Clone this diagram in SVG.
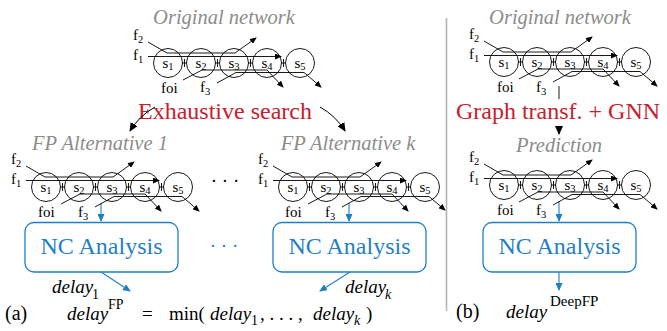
<svg xmlns="http://www.w3.org/2000/svg" width="667" height="331" viewBox="0 0 667 331" font-family="Liberation Serif, serif">
<style>
text{font-family:'Liberation Serif',serif;}
.c{fill:none;stroke:#000;stroke-width:0.9;}
.k{fill:none;stroke:#000;stroke-width:0.9;}
.fl{fill:none;stroke:#000;stroke-width:0.9;marker-end:url(#ah);}
.s{font-size:15px;text-anchor:middle;fill:#000;}
.lb{font-size:15px;fill:#000;}
.sub{font-size:10.5px;}
.title{font-size:20.5px;font-style:italic;fill:#8c8c8c;text-anchor:middle;}
.red{font-size:24px;fill:#c8202e;text-anchor:middle;}
.box{fill:none;stroke:#1f7fc4;stroke-width:1.3;}
.nc{font-size:24px;fill:#1f7fc4;text-anchor:middle;}
.ba{fill:none;stroke:#1f7fc4;stroke-width:1.1;marker-end:url(#bh);}
.ka{fill:none;stroke:#000;stroke-width:1;marker-end:url(#kh);}
.it{font-style:italic;font-size:19px;fill:#000;}
.rm{font-size:19px;fill:#000;}
.sup{font-size:14px;font-style:normal;fill:#000;}
</style>
<defs>
<marker id="ah" markerWidth="7" markerHeight="6" refX="6" refY="3" orient="auto" markerUnits="userSpaceOnUse"><path d="M0,0 L7,3 L0,6 z" fill="#000"/></marker>
<marker id="bh" markerWidth="8" markerHeight="7" refX="7" refY="3.5" orient="auto" markerUnits="userSpaceOnUse"><path d="M0,0 L8,3.5 L0,7 z" fill="#1f7fc4"/></marker>
<marker id="kh" markerWidth="9" markerHeight="8" refX="8" refY="4" orient="auto" markerUnits="userSpaceOnUse"><path d="M0,0 L9,4 L0,8 z" fill="#000"/></marker>
</defs>

<line x1="446.5" y1="18" x2="446.5" y2="311" stroke="#b4b4b4" stroke-width="1.6"/>

<g id="title-orig-a"><text class="title" x="224" y="24">Original network</text></g>

<g id="net-orig-a">
<circle class="c" cx="168" cy="63" r="14.5"/><circle class="c" cx="201" cy="63" r="14.5"/><circle class="c" cx="234" cy="63" r="14.5"/><circle class="c" cx="267" cy="63" r="14.5"/><circle class="c" cx="300" cy="63" r="14.5"/>
<path class="k" d="M182,63 H187 M184.5,59 V67 M215,63 H220 M217.5,59 V67 M248,63 H253 M250.5,59 V67 M281,63 H286 M283.5,59 V67"/>
<path class="fl" d="M148,56.5 H281"/>
<path class="fl" d="M148,42 L167,53 H235 L256,38"/>
<path class="fl" d="M183,80 L202,70 H267 L283,87"/>
<path class="fl" d="M217,83 L236,72.5 H304 L321,87"/>
<text class="s" x="168" y="67.5">s<tspan class="sub" dy="2">1</tspan></text>
<text class="s" x="201" y="67.5">s<tspan class="sub" dy="2">2</tspan></text>
<text class="s" x="234" y="67.5">s<tspan class="sub" dy="2">3</tspan></text>
<text class="s" x="267" y="67.5">s<tspan class="sub" dy="2">4</tspan></text>
<text class="s" x="300" y="67.5">s<tspan class="sub" dy="2">5</tspan></text>
<text class="lb" x="133" y="40">f<tspan class="sub" dy="3">2</tspan></text>
<text class="lb" x="133" y="60">f<tspan class="sub" dy="3">1</tspan></text>
<text class="lb" x="161" y="93">foi</text>
<text class="lb" x="200" y="92">f<tspan class="sub" dy="2.5">3</tspan></text>
</g>

<g id="exhaustive"><text class="red" x="225" y="119">Exhaustive search</text></g>

<g id="connectors">
<path class="ka" d="M155,107 Q139,116 130,131"/>
<path class="ka" d="M320,107 Q336,116 345,131"/>
<path class="ba" d="M101,203 V221"/>
<path class="ba" d="M349,203 V221"/>
<path class="ba" d="M101,272 L130,291"/>
<path class="ba" d="M350,272 L320,291"/>
<path class="k" d="M559,86 V99"/>
<path class="ka" d="M559,127 V134"/>
<path class="ba" d="M559,201 V221"/>
<path class="ba" d="M559,272 V290"/>
</g>

<g id="title-alt1"><text class="title" x="100" y="150">FP Alternative 1</text></g>
<g id="net-alt1">
<circle class="c" cx="46" cy="187" r="14.5"/><circle class="c" cx="79" cy="187" r="14.5"/><circle class="c" cx="112" cy="187" r="14.5"/><circle class="c" cx="145" cy="187" r="14.5"/><circle class="c" cx="178" cy="187" r="14.5"/>
<path class="k" d="M60,187 H65 M62.5,183 V191 M93,187 H98 M95.5,183 V191 M126,187 H131 M128.5,183 V191 M159,187 H164 M161.5,183 V191"/>
<path class="fl" d="M26,180.5 H159"/>
<path class="fl" d="M26,166 L45,177 H113 L134,162"/>
<path class="fl" d="M61,204 L80,194 H145 L161,211"/>
<path class="fl" d="M95,207 L114,196.5 H182 L199,211"/>
<text class="s" x="46" y="191.5">s<tspan class="sub" dy="2">1</tspan></text>
<text class="s" x="79" y="191.5">s<tspan class="sub" dy="2">2</tspan></text>
<text class="s" x="112" y="191.5">s<tspan class="sub" dy="2">3</tspan></text>
<text class="s" x="145" y="191.5">s<tspan class="sub" dy="2">4</tspan></text>
<text class="s" x="178" y="191.5">s<tspan class="sub" dy="2">5</tspan></text>
<text class="lb" x="11" y="164">f<tspan class="sub" dy="3">2</tspan></text>
<text class="lb" x="11" y="184">f<tspan class="sub" dy="3">1</tspan></text>
<text class="lb" x="38" y="217">foi</text>
<text class="lb" x="78" y="217">f<tspan class="sub" dy="2.5">3</tspan></text>
</g>
<g id="nc1"><rect class="box" x="25" y="222.5" width="153" height="49.5" rx="9"/><text class="nc" x="101.5" y="254">NC Analysis</text></g>

<g id="dots-net"><text class="rm" x="225" y="187" text-anchor="middle">· · ·</text></g>
<g id="dots-nc"><text class="rm" x="224" y="252" text-anchor="middle" style="fill:#1f7fc4">· · ·</text></g>

<g id="title-altk"><text class="title" x="348" y="150">FP Alternative k</text></g>
<g id="net-altk">
<circle class="c" cx="293" cy="187" r="14.5"/><circle class="c" cx="326" cy="187" r="14.5"/><circle class="c" cx="359" cy="187" r="14.5"/><circle class="c" cx="392" cy="187" r="14.5"/><circle class="c" cx="425" cy="187" r="14.5"/>
<path class="k" d="M307,187 H312 M309.5,183 V191 M340,187 H345 M342.5,183 V191 M373,187 H378 M375.5,183 V191 M406,187 H411 M408.5,183 V191"/>
<path class="fl" d="M273,180.5 H406"/>
<path class="fl" d="M273,166 L292,177 H360 L381,162"/>
<path class="fl" d="M308,204 L327,194 H392 L408,211"/>
<path class="fl" d="M342,207 L361,196.5 H429 L445,210"/>
<text class="s" x="293" y="191.5">s<tspan class="sub" dy="2">1</tspan></text>
<text class="s" x="326" y="191.5">s<tspan class="sub" dy="2">2</tspan></text>
<text class="s" x="359" y="191.5">s<tspan class="sub" dy="2">3</tspan></text>
<text class="s" x="392" y="191.5">s<tspan class="sub" dy="2">4</tspan></text>
<text class="s" x="425" y="191.5">s<tspan class="sub" dy="2">5</tspan></text>
<text class="lb" x="258" y="164">f<tspan class="sub" dy="3">2</tspan></text>
<text class="lb" x="258" y="184">f<tspan class="sub" dy="3">1</tspan></text>
<text class="lb" x="285" y="217">foi</text>
<text class="lb" x="325" y="217">f<tspan class="sub" dy="2.5">3</tspan></text>
</g>
<g id="nc2"><rect class="box" x="273" y="222.5" width="153" height="49.5" rx="9"/><text class="nc" x="349.5" y="254">NC Analysis</text></g>

<g id="delay1"><text class="it" x="52" y="293">delay</text><text class="sup" x="92" y="299">1</text></g>
<g id="delayk"><text class="it" x="345" y="293">delay</text><text class="sup" x="385" y="299" style="font-style:italic">k</text></g>

<g id="formula-a">
<text class="rm" x="5" y="320" style="font-size:20px">(a)</text>
<text class="it" x="67" y="320">delay</text>
<text class="sup" x="108" y="309">FP</text>
<text class="rm" x="142" y="320">=</text>
<text class="rm" x="169" y="320">min(</text>
<text class="it" x="210" y="320">delay</text>
<text class="sup" x="251" y="325">1</text>
<text class="rm" x="260" y="320">, . . . ,</text>
<text class="it" x="313" y="320">delay</text>
<text class="sup" x="354" y="325" style="font-style:italic">k</text>
<text class="rm" x="366" y="320">)</text>
</g>

<g id="title-orig-b"><text class="title" x="560" y="24">Original network</text></g>
<g id="net-orig-b">
<circle class="c" cx="504" cy="62" r="14.5"/><circle class="c" cx="537" cy="62" r="14.5"/><circle class="c" cx="570" cy="62" r="14.5"/><circle class="c" cx="603" cy="62" r="14.5"/><circle class="c" cx="636" cy="62" r="14.5"/>
<path class="k" d="M518,62 H523 M520.5,58 V66 M551,62 H556 M553.5,58 V66 M584,62 H589 M586.5,58 V66 M617,62 H622 M619.5,58 V66"/>
<path class="fl" d="M484,55.5 H617"/>
<path class="fl" d="M484,41 L503,52 H571 L592,37"/>
<path class="fl" d="M519,79 L538,69 H603 L619,86"/>
<path class="fl" d="M553,82 L572,71.5 H640 L657,86"/>
<text class="s" x="504" y="66.5">s<tspan class="sub" dy="2">1</tspan></text>
<text class="s" x="537" y="66.5">s<tspan class="sub" dy="2">2</tspan></text>
<text class="s" x="570" y="66.5">s<tspan class="sub" dy="2">3</tspan></text>
<text class="s" x="603" y="66.5">s<tspan class="sub" dy="2">4</tspan></text>
<text class="s" x="636" y="66.5">s<tspan class="sub" dy="2">5</tspan></text>
<text class="lb" x="469" y="39">f<tspan class="sub" dy="3">2</tspan></text>
<text class="lb" x="469" y="59">f<tspan class="sub" dy="3">1</tspan></text>
<text class="lb" x="497" y="92">foi</text>
<text class="lb" x="536" y="92">f<tspan class="sub" dy="2.5">3</tspan></text>
</g>

<g id="gnn"><text class="red" x="558" y="119">Graph transf. + GNN</text></g>
<g id="title-pred"><text class="title" x="559" y="152">Prediction</text></g>

<g id="net-pred">
<circle class="c" cx="504" cy="185" r="14.5"/><circle class="c" cx="537" cy="185" r="14.5"/><circle class="c" cx="570" cy="185" r="14.5"/><circle class="c" cx="603" cy="185" r="14.5"/><circle class="c" cx="636" cy="185" r="14.5"/>
<path class="k" d="M518,185 H523 M520.5,181 V189 M551,185 H556 M553.5,181 V189 M584,185 H589 M586.5,181 V189 M617,185 H622 M619.5,181 V189"/>
<path class="fl" d="M484,178.5 H617"/>
<path class="fl" d="M484,164 L503,175 H571 L592,160"/>
<path class="fl" d="M519,202 L538,192 H603 L619,209"/>
<path class="fl" d="M553,205 L572,194.5 H640 L657,209"/>
<text class="s" x="504" y="189.5">s<tspan class="sub" dy="2">1</tspan></text>
<text class="s" x="537" y="189.5">s<tspan class="sub" dy="2">2</tspan></text>
<text class="s" x="570" y="189.5">s<tspan class="sub" dy="2">3</tspan></text>
<text class="s" x="603" y="189.5">s<tspan class="sub" dy="2">4</tspan></text>
<text class="s" x="636" y="189.5">s<tspan class="sub" dy="2">5</tspan></text>
<text class="lb" x="469" y="162">f<tspan class="sub" dy="3">2</tspan></text>
<text class="lb" x="469" y="182">f<tspan class="sub" dy="3">1</tspan></text>
<text class="lb" x="497" y="215">foi</text>
<text class="lb" x="536" y="215">f<tspan class="sub" dy="2.5">3</tspan></text>
</g>
<g id="nc3"><rect class="box" x="483" y="222.5" width="153" height="49.5" rx="9"/><text class="nc" x="559.5" y="254">NC Analysis</text></g>

<g id="formula-b">
<text class="rm" x="456" y="318" style="font-size:20px">(b)</text>
<text class="it" x="506" y="318">delay</text>
<text class="sup" x="550" y="306" style="font-size:15px">DeepFP</text>
</g>
</svg>
